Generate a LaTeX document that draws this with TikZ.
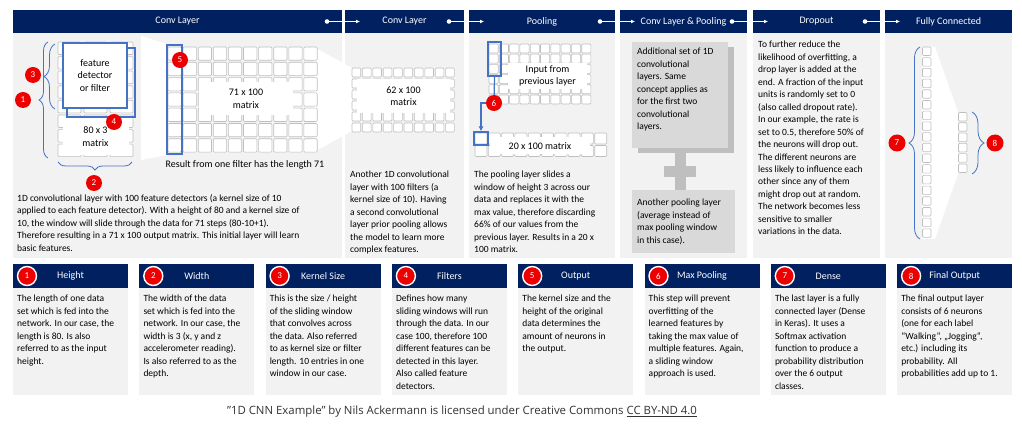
\documentclass[tikz,border=0pt]{standalone}
\usepackage{fontspec}
\setmainfont{Carlito}
\newfontfamily\capfont{Open Sans}
\usetikzlibrary{arrows.meta,decorations.pathreplacing,positioning}

\definecolor{navy}{RGB}{0,32,96}
\definecolor{panel}{RGB}{242,242,242}
\definecolor{ablue}{RGB}{68,114,196}
\definecolor{cellgray}{RGB}{191,191,191}
\definecolor{boxgray}{RGB}{217,217,217}
\definecolor{mark}{RGB}{236,0,0}

\begin{document}
\begin{tikzpicture}[x=1pt,y=-1pt,
  txt/.style={anchor=north west, inner sep=0pt, align=left, font=\fontsize{9.5}{12.5}\selectfont},
  lbl/.style={inner sep=0pt, align=center, font=\fontsize{10}{12.5}\selectfont},
  htxt/.style={text=white, inner sep=0pt, font=\fontsize{10}{12}\selectfont},
  num/.style={circle, fill=mark, text=white, inner sep=0pt, minimum size=16pt, font=\fontsize{9}{10}\selectfont},
  bnum/.style={num, draw=white, line width=1.4pt, minimum size=19pt},
  cell/.style={draw=cellgray, fill=white, rounded corners=1pt, line width=0.6pt},
  win/.style={draw=ablue, line width=1.2pt, inner sep=0pt},
  brc/.style={draw=ablue, line width=0.8pt, decorate},
  link/.style={white, line width=0.8pt, -{Latex[length=4pt,width=4pt]}}]
  \useasboundingbox[fill=white] (0,0) rectangle (1022,430);

  % top panels
  \foreach \l/\r/\t [count=\i] in {13/342/Conv Layer, 345/464/Conv Layer, 469/615/Pooling,
      620/747/{Conv Layer \& Pooling}, 753/880/Dropout, 885/1012/Fully Connected}
    {\fill[panel] (\l,33) rectangle (\r,258);
     \fill[navy] (\l,10) rectangle (\r,33);
     \node[htxt] (h\i) at ({(\l+\r)/2},21.5) {\t};}
  \foreach \r/\l [count=\i] in {342/345, 464/469, 615/620, 747/753, 880/885}
    {\coordinate (d\i) at (\r-15,21.5);
     \coordinate (t\i) at (\l+15,21.5);
     \fill[white] (d\i) circle (2.3);
     \draw[link] (d\i) -- (t\i);}

  % conv layer 1
  \fill[white] (141,36) -- (167,44) -- (167,155) -- (141,160) -- cycle;
  \fill[white] (314,47) -- (352,68) -- (352,131) -- (314,152) -- cycle;
  \foreach \c in {0,1,2}
    \foreach \r in {0,...,7}
      \draw[cell] ({58+26*\c},{42+14.6*\r}) rectangle +(23,12.5);
  \node[lbl, fill=white, minimum width=66pt, minimum height=37pt] (inmat) at (95.5,136.5) {80 x 3\\matrix};
  \draw[ablue, line width=1.2pt] (67,48) rectangle (135,117);
  \node[lbl, win, fill=white, minimum width=64pt, minimum height=65pt] (filter) at (95,75.5)
    {feature\\detector\\or filter};
  \foreach \c in {0,...,9}
    \foreach \r in {0,...,6}
      \draw[cell] ({168+15.1*\c},{47+15.3*\r}) rectangle +(13.3,13.3);
  \node[lbl, fill=white, minimum width=94pt, minimum height=33pt] (outmat) at (246,99) {71 x 100\\matrix};
  \node[win, minimum width=15pt, minimum height=109pt] (col) at (174.5,99.5) {};
  \node[lbl] (res) at (245,165) {Result from one filter has the length 71};
  \draw[brc, decoration={brace, amplitude=9pt}] (48,158) -- (48,42);
  \draw[brc, decoration={brace, amplitude=11pt}] (55,109) -- (55,44);
  \draw[brc, decoration={brace, amplitude=8pt}] (132,162) -- (58,162);
  \node[num] (n1) at (23,100) {1};
  \node[num] (n3) at (33,75) {3};
  \node[num] (n2) at (94,183) {2};
  \node[num] (n4) at (114,122) {4};
  \node[num] (n5) at (180,60) {5};
  \node[txt] (p1) at (17,194) {1D convolutional layer with 100 feature detectors (a kernel size of 10\\
    applied to each feature detector). With a height of 80 and a kernel size of\\
    10, the window will slide through the data for 71 steps (80-10+1).\\
    Therefore resulting in a 71 x 100 output matrix. This initial layer will learn\\
    basic features.};

  % conv layer 2
  \foreach \c in {0,...,9}
    \foreach \r in {0,...,5}
      \draw[cell] ({352+10.4*\c},{68+11*\r}) rectangle +(8.7,9);
  \node[lbl, fill=white, minimum width=93pt, minimum height=34pt] (mat2) at (403.5,96) {62 x 100\\matrix};
  \node[txt] (p2) at (350,171) {Another 1D convolutional\\
    layer with 100 filters (a\\
    kernel size of 10). Having\\
    a second convolutional\\
    layer prior pooling allows\\
    the model to learn more\\
    complex features.};

  % pooling
  \foreach \c in {0,...,9}
    \foreach \r in {0,...,5}
      \draw[cell] ({489+10.3*\c},{44+10.2*\r}) rectangle +(9.2,9);
  \foreach \c in {0,...,9}
    \foreach \r in {0,1}
      \draw[cell] ({475+13.3*\c},{133+12.5*\r}) rectangle +(12,11);
  \node[lbl, fill=white, minimum width=79pt, minimum height=26pt] (prev) at (547.5,76) {Input from\\previous layer};
  \node[lbl, fill=white, minimum width=100pt, minimum height=17pt] (mat3) at (540,146) {20 x 100 matrix};
  \node[win, minimum width=13pt, minimum height=34pt] (pwin) at (494.5,59) {};
  \node[win, minimum width=14pt, minimum height=13pt] (pout) at (481,138.5) {};
  \coordinate (c6) at (494,103);
  \draw[ablue, line width=1.2pt] (pwin.south) -- (c6);
  \draw[ablue, line width=1.2pt, -{Latex[length=5pt,width=5pt]}] (c6) -| (pout.north);
  \node[num] (n6) at (c6) {6};
  \node[txt] (p3) at (474,171) {The pooling layer slides a\\
    window of height 3 across our\\
    data and replaces it with the\\
    max value, therefore discarding\\
    66\% of our values from the\\
    previous layer. Results in a 20 x\\
    100 matrix.};

  % conv layer & pooling
  \fill[cellgray] (638,47) rectangle (734,153);
  \node[fill=boxgray, inner sep=0pt, minimum width=96pt, minimum height=106pt] (more) at (680,95) {};
  \node[txt] (p4) at (637,48) {Additional set of 1D\\
    convolutional\\
    layers. Same\\
    concept applies as\\
    for the first two\\
    convolutional\\
    layers.};
  \fill[cellgray] (675,153) rectangle (686,190);
  \fill[cellgray] (664,166) rectangle (696,177);
  \node[fill=boxgray, inner sep=0pt, minimum width=103pt, minimum height=63pt] (avg) at (683.5,221.5) {};
  \node[txt] (p4b) at (637,199) {Another pooling layer\\
    (average instead of\\
    max pooling window\\
    in this case).};

  % dropout
  \node[txt, font=\fontsize{9.5}{12.47}\selectfont] (p5) at (758,41) {To further reduce the\\
    likelihood of overfitting, a\\
    drop layer is added at the\\
    end. A fraction of the input\\
    units is randomly set to 0\\
    (also called dropout rate).\\
    In our example, the rate is\\
    set to 0.5, therefore 50\% of\\
    the neurons will drop out.\\
    The different neurons are\\
    less likely to influence each\\
    other since any of them\\
    might drop out at random.\\
    The network becomes less\\
    sensitive to smaller\\
    variations in the data.};

  % fully connected
  \fill[white] (922,47) -- (935,47) -- (958,112) -- (958,174) -- (935,239) -- (922,239) -- cycle;
  \foreach \r in {0,...,17}
    \draw[cell] (922.5,{47+10.7*\r}) rectangle +(8.5,8.5);
  \foreach \r in {0,...,5}
    \draw[cell] (958.5,{112.5+10.3*\r}) rectangle +(8.5,8.5);
  \draw[brc, decoration={brace, amplitude=11pt}] (920,239) -- (920,47);
  \draw[brc, decoration={brace, amplitude=12pt}] (972,112) -- (972,174);
  \node[num, minimum size=17pt] (n7) at (897,143) {7};
  \node[num, minimum size=17pt] (n8) at (995,143) {8};

  % legend boxes
  \foreach \t [count=\i] in {Height, Width, Kernel Size, Filters, Output, Max Pooling, Dense, Final Output}
    {\pgfmathsetmacro\bx{13+126.3*(\i-1)}
     \fill[panel] (\bx,288) rectangle +(115,107);
     \fill[navy] (\bx,264) rectangle +(115,24);
     \node[htxt] (bt\i) at (\bx+57.5,276) {\t};
     \node[bnum] (bn\i) at (\bx+14,276) {\i};}
  \node[txt] (b1) at (17,295) {The length of one data\\
    set which is fed into the\\
    network. In our case, the\\
    length is 80. Is also\\
    referred to as the input\\
    height.};
  \node[txt] (b2) at (143.3,295) {The width of the data\\
    set which is fed into the\\
    network. In our case, the\\
    width is 3 (x, y and z\\
    accelerometer reading).\\
    Is also referred to as the\\
    depth.};
  \node[txt] (b3) at (269.6,295) {This is the size / height\\
    of the sliding window\\
    that convolves across\\
    the data. Also referred\\
    to as kernel size or filter\\
    length. 10 entries in one\\
    window in our case.};
  \node[txt] (b4) at (395.9,295) {Defines how many\\
    sliding windows will run\\
    through the data. In our\\
    case 100, therefore 100\\
    different features can be\\
    detected in this layer.\\
    Also called feature\\
    detectors.};
  \node[txt] (b5) at (522.2,295) {The kernel size and the\\
    height of the original\\
    data determines the\\
    amount of neurons in\\
    the output.};
  \node[txt] (b6) at (648.5,295) {This step will prevent\\
    overfitting of the\\
    learned features by\\
    taking the max value of\\
    multiple features. Again,\\
    a sliding window\\
    approach is used.};
  \node[txt] (b7) at (774.8,295) {The last layer is a fully\\
    connected layer (Dense\\
    in Keras). It uses a\\
    Softmax activation\\
    function to produce a\\
    probability distribution\\
    over the 6 output\\
    classes.};
  \node[txt] (b8) at (901.1,295) {The final output layer\\
    consists of 6 neurons\\
    (one for each label\\
    “Walking”, „Jogging“,\\
    etc.) including its\\
    probability. All\\
    probabilities add up to 1.};

  % caption
  \node[inner sep=0pt, text=black!80, font=\capfont\fontsize{11.4}{13}\selectfont] (cap) at (462,412)
    {”1D CNN Example” by Nils Ackermann is licensed under Creative Commons \underline{CC BY-ND 4.0}};
\end{tikzpicture}
\end{document}
